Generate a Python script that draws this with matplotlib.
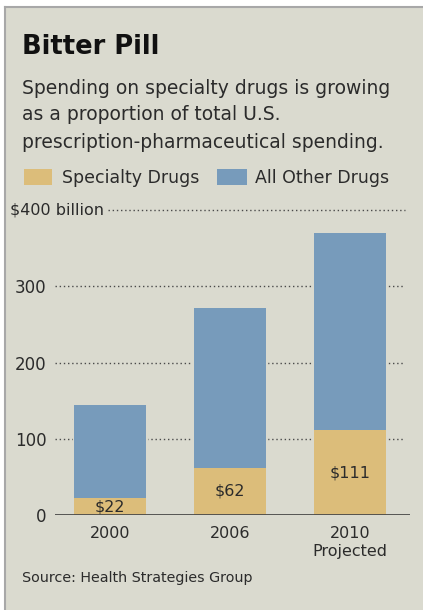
import matplotlib
matplotlib.use("Agg")
import numpy as np
from matplotlib import pyplot as plt
from matplotlib.patches import Rectangle
from matplotlib import font_manager

years = ["2000", "2006", "2010\nProjected"]
specialty = [22, 62, 111]
totals = [144, 271, 370]
other = [t - s for t, s in zip(totals, specialty)]
yticks = [0, 100, 200, 300, 400]
ytick_labels = ["0", "100", "200", "300", "$400 billion"]

BG = "#dadacf"
SPEC_C = "#dcbd7a"
OTHER_C = "#779bbb"
TXT = "#2b2b2b"

names = {f.name for f in font_manager.fontManager.ttflist}
FONT = "Liberation Sans Narrow" if "Liberation Sans Narrow" in names else "DejaVu Sans"
plt.rcParams["font.family"] = [FONT, "DejaVu Sans"]

W, H = 423, 610
fig = plt.figure(figsize=(W / 100, H / 100), dpi=100, facecolor="white")


def fx(px):
    return px / W


def fy(py):
    return 1 - py / H


# panel background and border
fig.patches.append(Rectangle((fx(5), 0), 1, fy(7), transform=fig.transFigure,
                             facecolor=BG, edgecolor="none", zorder=-10))
fig.lines.append(plt.Line2D([fx(5), fx(5)], [0, fy(7)], transform=fig.transFigure,
                            color="#a8a8a8", lw=1.5, zorder=-9))
fig.lines.append(plt.Line2D([fx(5), 1], [fy(7), fy(7)], transform=fig.transFigure,
                            color="#a8a8a8", lw=1.5, zorder=-9))

fig.text(fx(22), fy(47), "Bitter Pill", fontsize=18.5, fontweight="bold", color="#111111",
         va="center", ha="left")
sub = ["Spending on specialty drugs is growing",
       "as a proportion of total U.S.",
       "prescription-pharmaceutical spending."]
for i, line in enumerate(sub):
    fig.text(fx(22), fy(88 + i * 27), line, fontsize=13.5, color=TXT, va="center", ha="left")

# legend
fig.patches.append(Rectangle((fx(24), fy(185)), fx(28), 16 / H, transform=fig.transFigure,
                             facecolor=SPEC_C, edgecolor="none"))
fig.text(fx(62), fy(178), "Specialty Drugs", fontsize=12.5, color=TXT, va="center")
fig.patches.append(Rectangle((fx(217), fy(185)), fx(30), 16 / H, transform=fig.transFigure,
                             facecolor=OTHER_C, edgecolor="none"))
fig.text(fx(255), fy(178), "All Other Drugs", fontsize=12.5, color=TXT, va="center")

ax = fig.add_axes([fx(55), fy(515), fx(410) - fx(55), (515 - 210) / H])
ax.set_facecolor("none")
x = np.arange(len(years))
ax.set_xlim(-0.458, 2.5)
ax.set_ylim(0, 400)

for v in yticks[1:]:
    x0 = -0.458 if v < 400 else -0.017
    ax.plot([x0, 2.458], [v, v], color="#4a4a4a", lw=1, ls=(0, (1, 2)), zorder=1,
            clip_on=False)

ax.bar(x, specialty, width=0.6, color=SPEC_C, edgecolor=BG, linewidth=2.5, zorder=2)
ax.bar(x, other, bottom=specialty, width=0.6, color=OTHER_C, edgecolor=BG, linewidth=2.5, zorder=2)
ax.bar(x, specialty, width=0.6, color=SPEC_C, edgecolor="none", zorder=3)
ax.bar(x, other, bottom=specialty, width=0.6, color=OTHER_C, edgecolor="none", zorder=3)

for xi, s in zip(x, specialty):
    ax.text(xi, s / 2, f"${s}", ha="center", va="center", fontsize=11.5, color=TXT, zorder=4)

ax.axhline(0, color="#4a4a4a", lw=1.3, zorder=5)
for sp in ax.spines.values():
    sp.set_visible(False)
ax.set_xticks(x)
ax.set_xticklabels(years, fontsize=11.5, color=TXT, linespacing=1.2)
ax.set_yticks(yticks)
ax.set_yticklabels(ytick_labels[:-1] + [""], fontsize=12, color=TXT)
ax.tick_params(length=0, pad=6)
ax.tick_params(axis="x", pad=8)

# top tick label carries the unit and sits left-aligned
ax.text(fx(10), yticks[-1], ytick_labels[-1], transform=ax.get_yaxis_transform().__class__(
    fig.transFigure, ax.transData), ha="left", va="center", fontsize=11.5, color=TXT)

fig.text(fx(22), fy(578), "Source: Health Strategies Group", fontsize=10.3, color=TXT,
         va="center", ha="left")

fig.savefig("out.png", dpi=100, facecolor="white")
